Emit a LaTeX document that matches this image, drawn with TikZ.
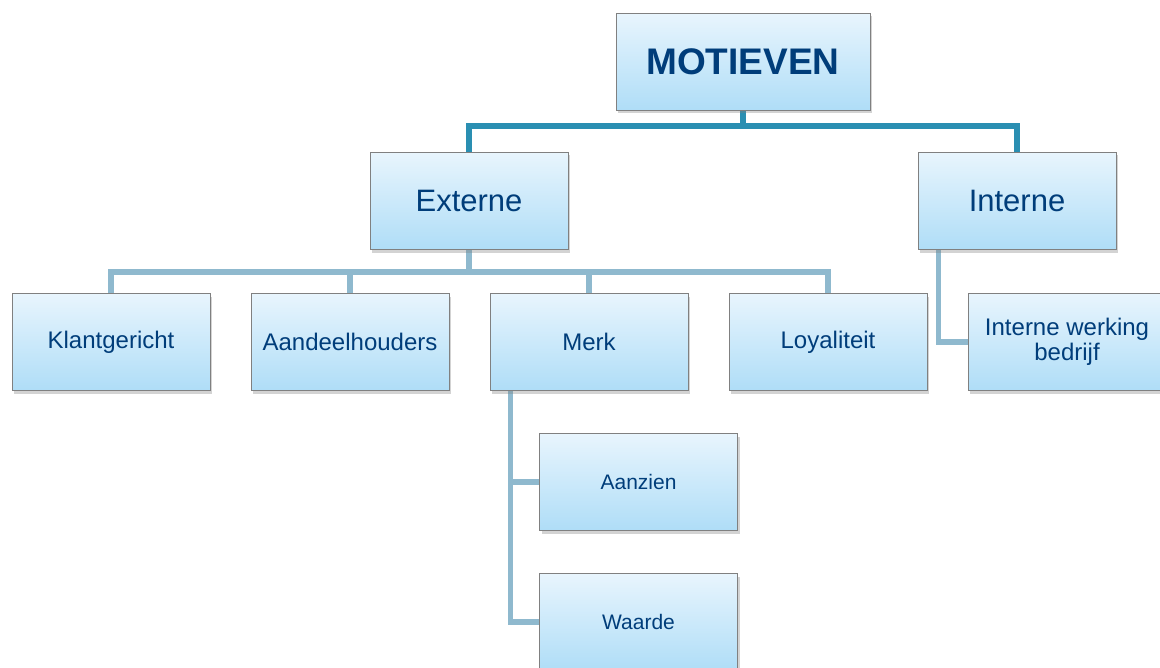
\documentclass[tikz,border=0pt]{standalone}
\usepackage{fontspec}
\setmainfont{Liberation Sans}
\usetikzlibrary{positioning,calc,shadows,backgrounds}
\definecolor{boxtop}{RGB}{232,245,253}
\definecolor{boxbot}{RGB}{175,221,247}
\definecolor{boxline}{RGB}{128,128,128}
\definecolor{txtblue}{RGB}{0,61,122}
\definecolor{linkA}{RGB}{42,143,178}
\definecolor{linkB}{RGB}{143,185,206}

\begin{document}
\begin{tikzpicture}[x=0.5pt,y=-0.5pt,
node distance = 21pt and 20pt,
box/.style = {draw=boxline, line width=0.5pt,
              top color=boxtop, bottom color=boxbot,
              text=txtblue, align=center, inner sep=2pt,
              minimum width=99pt, minimum height=48.5pt,
              drop shadow={shadow xshift=1.2pt, shadow yshift=-1.5pt,
                           opacity=0.35}},
lnA/.style = {draw=linkA, line width=2.8pt},
lnB/.style = {draw=linkB, line width=2.6pt}
                        ]
\useasboundingbox (0,0) rectangle (1160,668);
\node (mot) [box, minimum width=127pt,
             font=\fontsize{18.5}{20}\selectfont\bfseries] at (743,62) {MOTIEVEN};
\node (ext) [box, font=\fontsize{15.5}{17}\selectfont] at (469,201) {Externe};
\node (int) [box, font=\fontsize{15.5}{17}\selectfont] at (1017,201) {Interne};
%
\node (k1) [box, font=\fontsize{12}{12.5}\selectfont] at (111,342) {Klantgericht};
\foreach \i/\t [count=\xi from 1] in {2/Aandeelhouders, 3/Merk, 4/Loyaliteit,
                                     5/{Interne werking\\bedrijf}}
    \node (k\i) [box, right=of k\xi, font=\fontsize{12}{12.5}\selectfont] {\t};
%
\node (m1) [box, below=of k3, xshift=24.75pt,
            font=\fontsize{10.5}{12}\selectfont] {Aanzien};
\node (m2) [box, below=of m1, font=\fontsize{10.5}{12}\selectfont] {Waarde};
%
\begin{scope}[on background layer]
\coordinate (j1) at ($(mot.south)+(0,15)$);
\draw[lnA]  (mot.south) -- (j1);
\draw[lnA]  (ext.north) |- (j1) -| (int.north);
%
\coordinate (j2) at ($(ext.south)+(0,22)$);
\draw[lnB]  (ext.south) -- (j2);
\draw[lnB]  (k1.north) |- (j2) -| (k4.north);
\foreach \i in {2,3}
    \draw[lnB] (j2 -| k\i.north) -- (k\i.north);
%
\coordinate (j3) at ($(k3.south west)+(21,0)$);
\draw[lnB]  (j3) |- (m2.west);
\draw[lnB]  (j3 |- m1.west) -- (m1.west);
\draw[lnB]  ($(int.south west)+(21,0)$) |- (k5.west);
\end{scope}
\end{tikzpicture}
\end{document}
